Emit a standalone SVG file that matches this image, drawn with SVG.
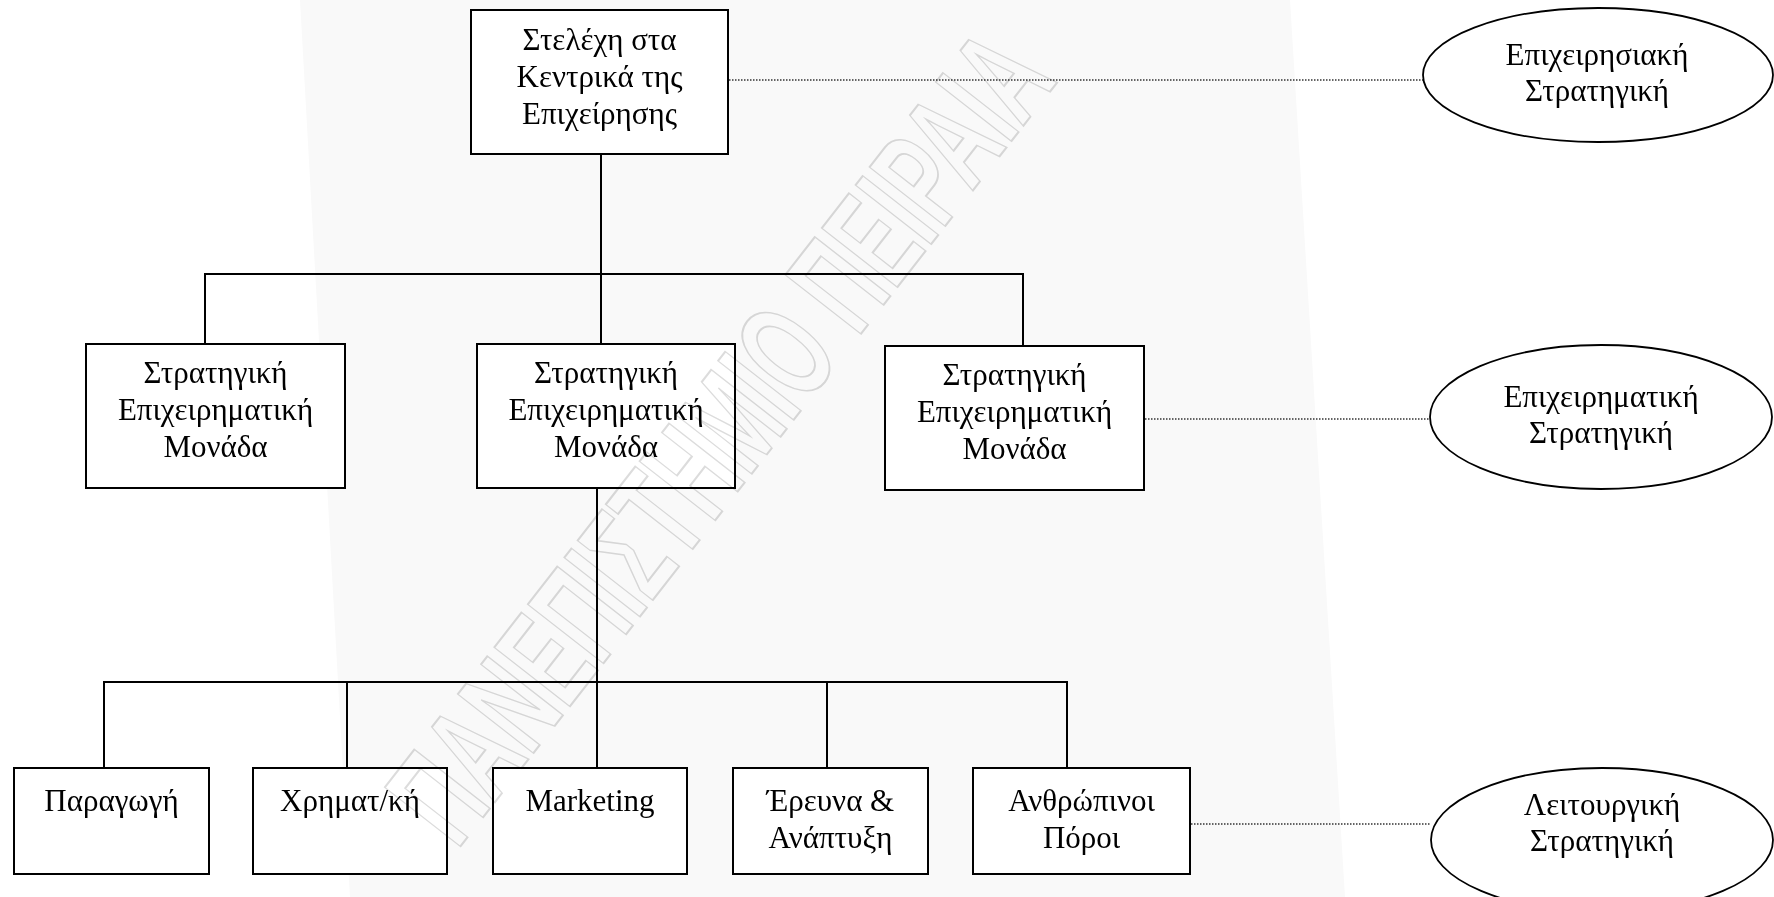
<svg xmlns="http://www.w3.org/2000/svg" width="1774" height="897" viewBox="0 0 1774 897">
  <style>
    .box { fill: #ffffff; stroke: #000000; stroke-width: 2; }
    .oval { fill: #ffffff; stroke: #000000; stroke-width: 1.8; }
    .lbl { font-size: 31px; fill: #000000; text-anchor: middle; }
    .link { stroke: #000000; stroke-width: 2; fill: none; }
    .dots { stroke: #333333; stroke-width: 1.3; stroke-dasharray: 1.5 1.5; fill: none; }
    .wm { font-weight: bold; font-size: 82px; fill: none; stroke: #dcdcdc; stroke-width: 1.2; mix-blend-mode: multiply; }
  </style>

  <rect x="0" y="0" width="1774" height="897" fill="#ffffff"/>

  <!-- faint background band behind the chart -->
  <polygon id="band" points="300,0 1290,0 1345,897 350,897" fill="#f9f9f9"/>

  <!-- connectors -->
  <g id="connectors">
    <line class="link" x1="601" y1="154" x2="601" y2="274"/>
    <line class="link" x1="204" y1="274" x2="1024" y2="274"/>
    <line class="link" x1="205" y1="274" x2="205" y2="344"/>
    <line class="link" x1="601" y1="274" x2="601" y2="344"/>
    <line class="link" x1="1023" y1="274" x2="1023" y2="346"/>
    <line class="link" x1="597" y1="488" x2="597" y2="769"/>
    <line class="link" x1="103" y1="682" x2="1068" y2="682"/>
    <line class="link" x1="104" y1="682" x2="104" y2="769"/>
    <line class="link" x1="347" y1="682" x2="347" y2="769"/>
    <line class="link" x1="827" y1="682" x2="827" y2="769"/>
    <line class="link" x1="1067" y1="682" x2="1067" y2="769"/>
    <line class="dots" x1="729" y1="80" x2="1423" y2="80"/>
    <line class="dots" x1="1145" y1="419" x2="1430" y2="419"/>
    <line class="dots" x1="1191" y1="824" x2="1431" y2="824"/>
  </g>

  <g font-family="Liberation Serif, Times New Roman, DejaVu Serif, serif">
    <!-- corporate level -->
    <g id="hq">
      <rect class="box" x="471" y="10" width="257" height="144"/>
      <text class="lbl" x="599.5" y="50">Στελέχη στα</text>
      <text class="lbl" x="599.5" y="87">Κεντρικά της</text>
      <text class="lbl" x="599.5" y="124">Επιχείρησης</text>
    </g>

    <!-- business units -->
    <g id="sbu-left">
      <rect class="box" x="86" y="344" width="259" height="144"/>
      <text class="lbl" x="215.5" y="383">Στρατηγική</text>
      <text class="lbl" x="215.5" y="420">Επιχειρηματική</text>
      <text class="lbl" x="215.5" y="457">Μονάδα</text>
    </g>
    <g id="sbu-middle">
      <rect class="box" x="477" y="344" width="258" height="144"/>
      <text class="lbl" x="606" y="383">Στρατηγική</text>
      <text class="lbl" x="606" y="420">Επιχειρηματική</text>
      <text class="lbl" x="606" y="457">Μονάδα</text>
    </g>
    <g id="sbu-right">
      <rect class="box" x="885" y="346" width="259" height="144"/>
      <text class="lbl" x="1014.5" y="385">Στρατηγική</text>
      <text class="lbl" x="1014.5" y="422">Επιχειρηματική</text>
      <text class="lbl" x="1014.5" y="459">Μονάδα</text>
    </g>

    <!-- functional departments -->
    <g id="production">
      <rect class="box" x="14" y="768" width="195" height="106"/>
      <text class="lbl" x="111.5" y="811">Παραγωγή</text>
    </g>
    <g id="finance">
      <rect class="box" x="253" y="768" width="194" height="106"/>
      <text class="lbl" x="350" y="811">Χρηματ/κή</text>
    </g>
    <g id="marketing">
      <rect class="box" x="493" y="768" width="194" height="106"/>
      <text class="lbl" x="590" y="811">Marketing</text>
    </g>
    <g id="rnd">
      <rect class="box" x="733" y="768" width="195" height="106"/>
      <text class="lbl" x="830.5" y="811">Έρευνα &amp;</text>
      <text class="lbl" x="830.5" y="848">Ανάπτυξη</text>
    </g>
    <g id="hr">
      <rect class="box" x="973" y="768" width="217" height="106"/>
      <text class="lbl" x="1081.5" y="811">Ανθρώπινοι</text>
      <text class="lbl" x="1081.5" y="848">Πόροι</text>
    </g>

    <!-- strategy levels -->
    <g id="corporate-strategy">
      <ellipse class="oval" cx="1598" cy="75" rx="175" ry="67"/>
      <text class="lbl" x="1597" y="65">Επιχειρησιακή</text>
      <text class="lbl" x="1597" y="101">Στρατηγική</text>
    </g>
    <g id="business-strategy">
      <ellipse class="oval" cx="1601" cy="417" rx="171" ry="72"/>
      <text class="lbl" x="1601" y="407">Επιχειρηματική</text>
      <text class="lbl" x="1601" y="443">Στρατηγική</text>
    </g>
    <g id="functional-strategy">
      <ellipse class="oval" cx="1602" cy="840" rx="171" ry="72"/>
      <text class="lbl" x="1602" y="815">Λειτουργική</text>
      <text class="lbl" x="1602" y="851">Στρατηγική</text>
    </g>
  </g>

  <!-- outlined diagonal watermark lettering, blended over the chart -->
  <g id="watermark" transform="translate(735,448) rotate(-52) scale(1,1.7)">
    <text class="wm" x="0" y="17" text-anchor="middle" font-family="Liberation Sans, DejaVu Sans, sans-serif">ΠΑΝΕΠΙΣΤΗΜΙΟ ΠΕΙΡΑΙΑ</text>
  </g>
</svg>
